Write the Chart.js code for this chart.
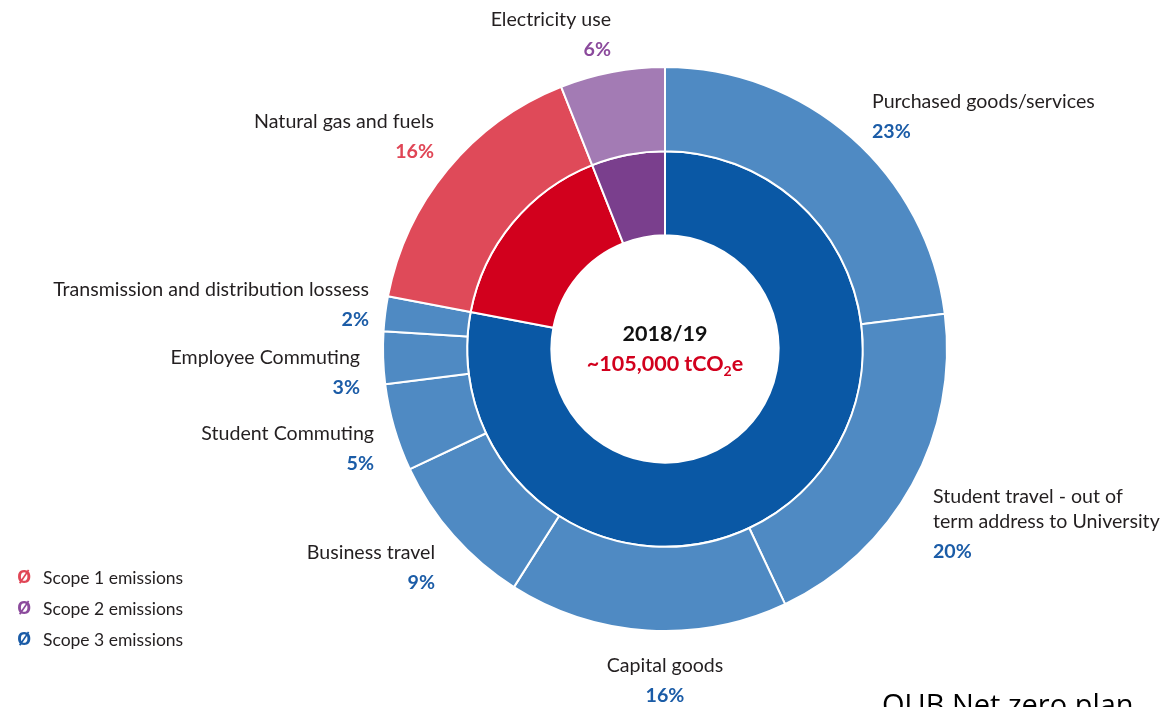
<!DOCTYPE html>
<html>
<head>
<meta charset="utf-8">
<script src="https://cdn.jsdelivr.net/npm/chart.js@4"></script>
<style>
  html, body { margin: 0; padding: 0; background: #fff; }
  #emissions { display: block; }
</style>
</head>
<body>
<canvas id="emissions" width="1171" height="707"></canvas>
<script>
// outer ring, clockwise from 12 o'clock
const categories = [
  "Purchased goods/services",
  "Student travel - out of|term address to University",
  "Capital goods",
  "Business travel",
  "Student Commuting",
  "Employee Commuting",
  "Transmission and distribution lossess",
  "Natural gas and fuels",
  "Electricity use",
];
const shares = [23, 20, 16, 9, 5, 3, 2, 16, 6];
const categoryScope = [3, 3, 3, 3, 3, 3, 3, 1, 2];

// inner ring, same start angle
const scopeOrder = [3, 1, 2];
const scopeShares = [78, 16, 6];
const scopeNames = ["Scope 1 emissions", "Scope 2 emissions", "Scope 3 emissions"];

const yearLabel = "2018/19";
const totalLabel = "~105,000 tCO";

const outerColor = { 1: "#df4a59", 2: "#a37bb4", 3: "#4f8ac3" };
const innerColor = { 1: "#d2001d", 2: "#7a3f8d", 3: "#0a58a5" };
const textColor = { 1: "#e04656", 2: "#8b4a9c", 3: "#1b5ca7" };

// where each category label sits: anchor x, first line y, alignment
const labelPos = [
  { x: 872, y: 102, align: "left" },
  { x: 933, y: 497, align: "left" },
  { x: 665, y: 666, align: "center" },
  { x: 435, y: 553, align: "right" },
  { x: 374, y: 434, align: "right" },
  { x: 360, y: 358, align: "right" },
  { x: 369, y: 290, align: "right" },
  { x: 434, y: 122, align: "right" },
  { x: 611, y: 20, align: "right" },
];

const FONT = "Lato, 'Open Sans', sans-serif";

const labelsPlugin = {
  id: "ringLabels",
  afterDraw(chart) {
    const ctx = chart.ctx;
    ctx.save();
    ctx.textBaseline = "middle";

    categories.forEach((name, i) => {
      const p = labelPos[i];
      const lines = name.split("|");
      ctx.textAlign = p.align;
      ctx.fillStyle = "#231f20";
      ctx.font = "19.6px " + FONT;
      lines.forEach((ln, k) => ctx.fillText(ln, p.x, p.y + k * 25));
      ctx.fillStyle = textColor[categoryScope[i]];
      ctx.font = "bold 19.6px " + FONT;
      ctx.fillText(shares[i] + "%", p.x, p.y + lines.length * 25 + 5);
    });

    // centre caption
    const arc = chart.getDatasetMeta(0).data[0];
    const cx = arc.x, cy = arc.y;
    ctx.textAlign = "center";
    ctx.fillStyle = "#111";
    ctx.font = "bold 21.5px " + FONT;
    ctx.fillText(yearLabel, cx, cy - 15);

    ctx.font = "bold 21.5px " + FONT;
    const w1 = ctx.measureText(totalLabel).width;
    ctx.font = "bold 14px " + FONT;
    const w2 = ctx.measureText("2").width;
    ctx.font = "bold 21.5px " + FONT;
    const w3 = ctx.measureText("e").width;
    const x0 = cx - (w1 + w2 + w3) / 2;
    ctx.textAlign = "left";
    ctx.fillStyle = "#d2001d";
    ctx.fillText(totalLabel, x0, cy + 15);
    ctx.font = "bold 14px " + FONT;
    ctx.fillText("2", x0 + w1, cy + 22);
    ctx.font = "bold 21.5px " + FONT;
    ctx.fillText("e", x0 + w1 + w2, cy + 15);

    // scope legend
    [1, 2, 3].forEach((s, k) => {
      const y = 578 + k * 31;
      ctx.fillStyle = textColor[s];
      ctx.font = "bold 18px 'Open Sans', sans-serif";
      ctx.fillText("\u00d8", 17, y);
      ctx.fillStyle = "#231f20";
      ctx.font = "17.5px " + FONT;
      ctx.fillText(scopeNames[k], 43, y);
    });

    // source note
    ctx.fillStyle = "#000";
    ctx.font = "29px 'Open Sans', sans-serif";
    ctx.textBaseline = "alphabetic";
    ctx.fillText("QUB Net zero plan", 882, 715);
    ctx.restore();
  },
};

new Chart(document.getElementById("emissions"), {
  type: "doughnut",
  data: {
    labels: categories,
    datasets: [
      {
        data: shares,
        backgroundColor: categoryScope.map((s) => outerColor[s]),
        borderColor: "#fff",
        borderWidth: 2,
      },
      {
        data: scopeShares,
        backgroundColor: scopeOrder.map((s) => innerColor[s]),
        borderColor: "#fff",
        borderWidth: 2,
      },
    ],
  },
  options: {
    responsive: false,
    animation: false,
    events: [],
    cutout: "40.3%",
    layout: { padding: { left: 382, right: 223, top: 66, bottom: 75 } },
    plugins: {
      legend: { display: false },
      tooltip: { enabled: false },
    },
  },
  plugins: [labelsPlugin],
});
</script>
</body>
</html>
